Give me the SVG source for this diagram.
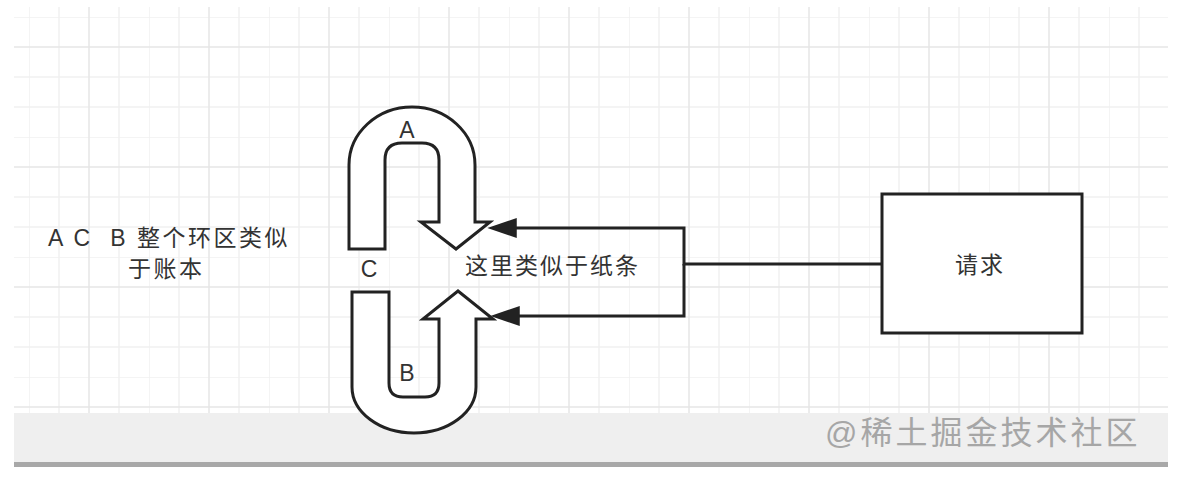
<svg xmlns="http://www.w3.org/2000/svg" width="1200" height="478" viewBox="0 0 1200 478">
<style>
.t{font-family:"Liberation Sans","Noto Sans CJK SC",sans-serif;font-size:23px;fill:#333;letter-spacing:2px}
.shape{fill:#fff;stroke:#222;stroke-width:3;stroke-linejoin:miter}
.conn{fill:none;stroke:#222;stroke-width:3}
.wm{font-family:"Liberation Sans","Noto Sans CJK SC",sans-serif;font-size:32px;fill:#a6a6a6;letter-spacing:3px}
</style>
<defs>
<pattern id="grid" patternUnits="userSpaceOnUse" x="29" y="17" width="120" height="120">
<path d="M0 0V120M30 0V120M90 0V120M0 0H120M0 60H120M0 90H120" stroke="#f1f1f1" stroke-width="1.5" fill="none"/>
<path d="M60 0V120M0 30H120" stroke="#e6e6e6" stroke-width="1.5" fill="none"/>
</pattern>
<marker id="arr" markerUnits="userSpaceOnUse" markerWidth="30" markerHeight="20" viewBox="0 0 25 17" refX="10" refY="8.5" orient="auto">
<path d="M0 0L25 8.5L0 17Z" fill="#222"/>
</marker>
</defs>
<rect width="1200" height="478" fill="#fff"/>
<rect x="14" y="7" width="1154" height="406" fill="url(#grid)"/>
<rect x="14" y="413" width="1154" height="49" fill="#efefef"/>
<rect x="14" y="462" width="1154" height="5" fill="#a8a8a8"/>
<g id="connectors">
<path class="conn" d="M882 264H684V228H505" marker-end="url(#arr)"/>
<path class="conn" d="M684 264V316H508" marker-end="url(#arr)"/>
</g>
<g id="uturn-a">
<path class="shape" d="M349 249L349 165A63 58 0 0 1 475 165L475 222L490 222L456 249L421 222L439 222L439 160Q439 143 422 143L402 143Q385 143 385 160L385 249Z"/>
<text class="t" x="407" y="138" text-anchor="middle" style="letter-spacing:0">A</text>
</g>
<g id="uturn-b">
<path class="shape" d="M352 292L389 292L389 383Q389 397 403 397L425 397Q439 397 439 383L439 319L423 319L458 291L493 319L476 319L476 387A62 46 0 0 1 352 387Z"/>
<text class="t" x="407" y="381" text-anchor="middle" style="letter-spacing:0">B</text>
</g>
<g id="label-c">
<text class="t" x="369" y="277" text-anchor="middle" style="letter-spacing:0">C</text>
</g>
<g id="ledger-note">
<text class="t" x="48" y="246" xml:space="preserve" style="letter-spacing:2.5px">A C  B 整个环区类似</text>
<text class="t" x="128" y="277" style="letter-spacing:2.5px">于账本</text>
</g>
<g id="note-paper">
<text class="t" x="465" y="274">这里类似于纸条</text>
</g>
<g id="request">
<rect x="882" y="194" width="200" height="139" fill="#fff" stroke="#222" stroke-width="3"/>
<text class="t" x="955" y="273">请求</text>
</g>
<text class="wm" x="825" y="444">@稀土掘金技术社区</text>
</svg>
